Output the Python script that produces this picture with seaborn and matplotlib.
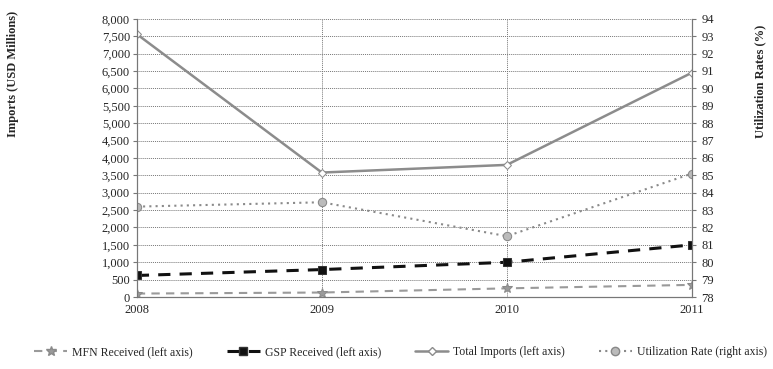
import pandas as pd
from matplotlib import pyplot as plt
from matplotlib.lines import Line2D
import seaborn as sns

## Values
years = [2008, 2009, 2010, 2011]
mfn_received = [100, 130, 250, 350]
gsp_received = [620, 790, 1000, 1500]
total_imports = [7560, 3580, 3800, 6450]
utilization_rate = [83.2, 83.45, 81.5, 85.1]

left_ticks = list(range(0, 8001, 500))
right_ticks = list(range(78, 95))

sns.set_style('white')
plt.rcParams['font.family'] = ['Liberation Serif', 'DejaVu Serif']

df = pd.DataFrame({'Year': years, 'MFN': mfn_received, 'GSP': gsp_received,
                   'Total': total_imports, 'Util': utilization_rate})

fig = plt.figure(figsize=(7.73, 3.69), dpi=100)
ax = fig.add_axes([0.177, 0.195, 0.718, 0.754])
ax2 = ax.twinx()

## Line styles shared between plot and legend
mfn_style = dict(color='#9a9a9a', linewidth=1.5, linestyle=(0, (4, 3)), marker='*',
                 markersize=7, markeredgecolor='#8a8a8a')
gsp_style = dict(color='#111111', linewidth=2.2, linestyle=(0, (4, 3)), marker='s',
                 markersize=6, markeredgecolor='#333333')
total_style = dict(color='#8c8c8c', linewidth=1.8, linestyle='-', marker='D', markersize=4,
                   markerfacecolor='white', markeredgecolor='#8c8c8c')
util_style = dict(color='#8a8a8a', linewidth=1.5, linestyle=(0, (1, 2)), marker='o',
                  markersize=6, markerfacecolor='#bbbbbb', markeredgecolor='#888888')

## Left axis series
sns.lineplot(data=df, x='Year', y='MFN', ax=ax, **mfn_style)
sns.lineplot(data=df, x='Year', y='GSP', ax=ax, **gsp_style)
sns.lineplot(data=df, x='Year', y='Total', ax=ax, **total_style)

## Right axis series
sns.lineplot(data=df, x='Year', y='Util', ax=ax2, **util_style)

ax.set_xlim(2008, 2011)
ax.set_ylim(0, 8000)
ax2.set_ylim(78, 94)
ax.set_xticks(years)
ax.set_xticklabels([str(y) for y in years], fontsize=9)
ax.set_yticks(left_ticks)
ax.set_yticklabels([f'{v:,}' for v in left_ticks], fontsize=9)
ax2.set_yticks(right_ticks)
ax2.set_yticklabels([str(v) for v in right_ticks], fontsize=9)

ax.grid(True, axis='both', color='#777777', linestyle=(0, (1, 1)), linewidth=0.7)
ax.set_axisbelow(True)
ax.tick_params(axis='both', length=3, color='#777777', pad=2)
ax2.tick_params(axis='y', length=3, color='#777777', pad=4)

for a in (ax, ax2):
    for side, spine in a.spines.items():
        spine.set_color('#777777')
        spine.set_linewidth(0.8)
        spine.set_linestyle((0, (1, 1)))
    a.spines['top'].set_visible(False)

ax.set_xlabel('')
ax.set_ylabel('')
ax2.set_ylabel('')
fig.text(13 / 773, 0.80, 'Imports (USD Millions)', fontsize=9, fontweight='bold',
         rotation=90, ha='center', va='center')
fig.text(760 / 773, 0.78, 'Utilization Rates (%)', fontsize=9, fontweight='bold',
         rotation=90, ha='center', va='center')

## Legend at the bottom
handles = [Line2D([], [], **s) for s in (mfn_style, gsp_style, total_style, util_style)]
labels = ['MFN Received (left axis)', 'GSP Received (left axis)',
          'Total Imports (left axis)', 'Utilization Rate (right axis)']
fig.legend(handles, labels, loc='center', bbox_to_anchor=(0.518, 0.045), ncol=4,
           frameon=False, fontsize=8.5, handlelength=2.8, handletextpad=0.4,
           columnspacing=2.9)

fig.savefig('out.png', dpi=100)
